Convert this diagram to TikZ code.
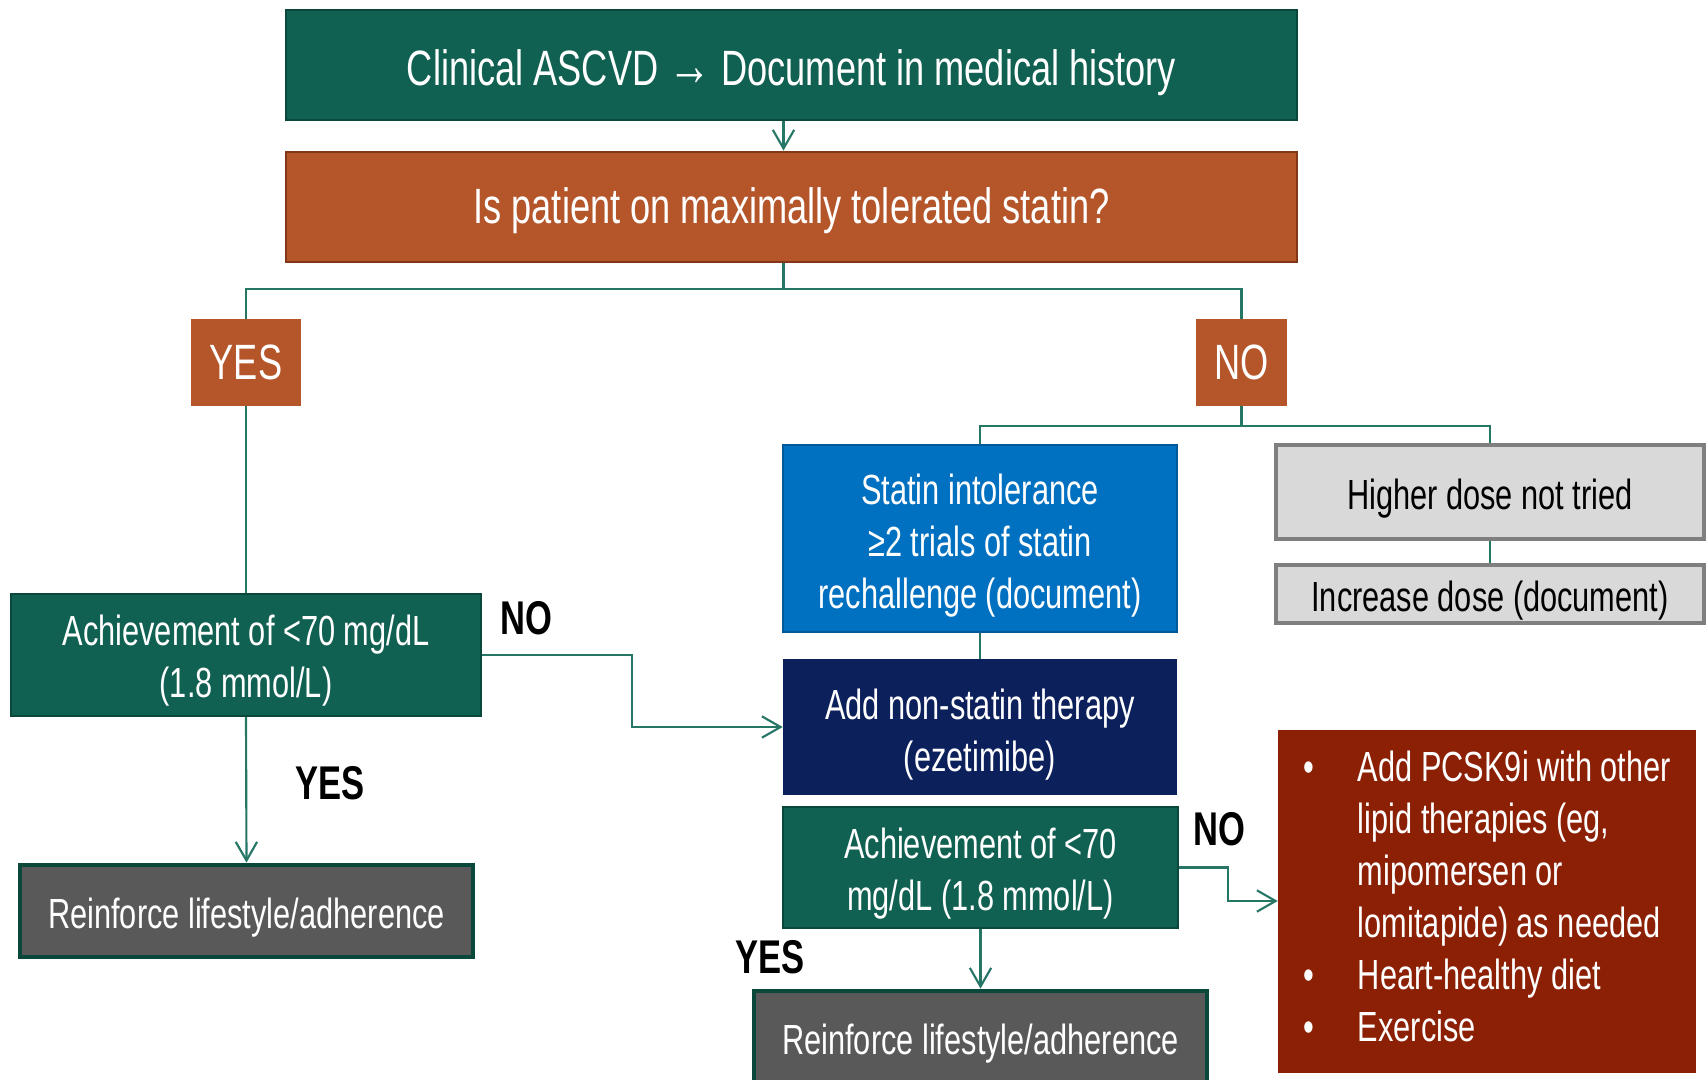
\documentclass[tikz,border=0pt]{standalone}
\usepackage{fontspec}
\setmainfont{Liberation Sans}[FakeStretch=0.73]
\usetikzlibrary{arrows.meta}

\definecolor{tealbox}{RGB}{17,97,82}
\definecolor{tealedge}{RGB}{10,72,60}
\definecolor{rust}{RGB}{181,85,42}
\definecolor{rustedge}{RGB}{130,55,22}
\definecolor{statblue}{RGB}{0,112,192}
\definecolor{navy}{RGB}{12,32,92}
\definecolor{paleg}{RGB}{217,217,217}
\definecolor{midg}{RGB}{127,127,127}
\definecolor{darkg}{RGB}{89,89,89}
\definecolor{brick}{RGB}{139,32,4}
\definecolor{wire}{RGB}{38,118,102}

\begin{document}
\begin{tikzpicture}[x=0.75pt, y=-0.75pt, font=\fontsize{31.6}{39}\selectfont,
    box/.style={rectangle, inner sep=0pt, align=center, text=white},
    lift/.style={execute at begin node={\rule{0pt}{#1}}}, lift/.default=33pt,
    big/.style={font=\fontsize{37.2}{44}\selectfont},
    goalbox/.style={box, fill=tealbox, draw=tealedge, line width=1.5pt},
    lifebox/.style={box, lift, fill=darkg, draw=tealedge, line width=3.5pt, minimum width=339.75pt, minimum height=69pt},
    greybox/.style={box, lift, text=black, fill=paleg, draw=midg, line width=3pt, minimum width=321pt},
    conn/.style={draw=wire, line width=1.6pt},
    arr/.style={conn, -{Straight Barb[length=14pt, width=16pt, line width=1.6pt]}},
    tag/.style={font=\fontsize{35.5}{40}\selectfont\bfseries}]
    \useasboundingbox (0,0) rectangle (1706,1080);
    \fill[white] (0,0) rectangle (1706,1080);

    \node[goalbox, big, lift=38pt, minimum width=758.25pt, minimum height=82.5pt] (hist) at (791.5,65) {Clinical ASCVD {\fontsize{44}{44}\selectfont\textrightarrow} Document in medical history};
    \node[box, big, lift, fill=rust, draw=rustedge, line width=2pt, minimum width=758.25pt, minimum height=82.5pt] (quest) at (791.5,207) {Is patient on maximally tolerated statin?};

    \node[box, big, fill=rust, minimum width=82.5pt, minimum height=65.25pt] (yes) at (246,362.5) {YES};
    \node[box, big, fill=rust, minimum width=68.25pt, minimum height=65.25pt] (no) at (1241.5,362.5) {NO};

    % two-line boxes get their strut inline
    \node[goalbox, minimum width=352.5pt, minimum height=91.5pt] (goal1) at (246,655) {\rule{0pt}{31pt}Achievement of <70 mg/dL\\(1.8 mmol/L)};
    \node[lifebox] (life1) at (246.5,911) {Reinforce lifestyle/adherence};

    \node[box, fill=statblue, draw=statblue!80!black, line width=1pt, minimum width=295.5pt, minimum height=140.25pt] (intol) at (980,538.5) {\rule{0pt}{33pt}Statin intolerance\\≥2 trials of statin\\rechallenge (document)};
    \node[greybox, minimum height=70.5pt] (higher) at (1490,492) {Higher dose not tried};
    \node[greybox, minimum height=43.5pt] (incr) at (1490,594) {Increase dose (document)};

    \node[box, fill=navy, minimum width=295.5pt, minimum height=102pt] (nonst) at (980,727) {\rule{0pt}{34pt}Add non-statin therapy\\(ezetimibe)};
    \node[goalbox, minimum width=296pt, minimum height=90.75pt] (goal2) at (980.5,867.5) {\rule{0pt}{32pt}Achievement of <70\\mg/dL (1.8 mmol/L)};
    \node[lifebox] (life2) at (980.5,1037) {Reinforce lifestyle/adherence};

    \node[box, fill=brick, minimum width=313.5pt, minimum height=257.25pt] (pcsk) at (1487,901) {%
        \begin{tabular}{@{}l@{\hspace{33pt}}l@{}}
        \textbullet & Add PCSK9i with other\\
                    & lipid therapies (eg,\\
                    & mipomersen or\\
                    & lomitapide) as needed\\
        \textbullet & Heart-healthy diet\\
        \textbullet & Exercise
        \end{tabular}};

    \node[tag] (no1) at (526,618) {NO};
    \node[tag] (yes1) at (330,783) {YES};
    \node[tag] (no2) at (1219,829) {NO};
    \node[tag] (yes2) at (770,957) {YES};

    \draw[arr] ([xshift=-6pt]hist.south) -- ([xshift=-6pt]quest.north);
    \draw[conn] ([xshift=-6pt]quest.south) -- ++(0,26) -| (yes.north);
    \draw[conn] ([xshift=-6pt]quest.south) -- ++(0,26) -| (no.north);
    \draw[conn] (yes.south) -- (goal1.north);
    \draw[conn] (no.south) -- ++(0,20) -| (intol.north);
    \draw[conn] (no.south) -- ++(0,20) -| (higher.north);
    \draw[conn] (higher.south) -- (incr.north);
    \draw[conn] (intol.south) -- (nonst.north);
    \draw[arr] (goal1.east) -- ++(150,0) |- (nonst.west);
    \draw[arr] (goal1.south) -- (life1.north);
    \draw[arr] (goal2.east) -- ++(49,0) |- (pcsk.west);
    \draw[arr] (goal2.south) -- (life2.north);
\end{tikzpicture}
\end{document}
